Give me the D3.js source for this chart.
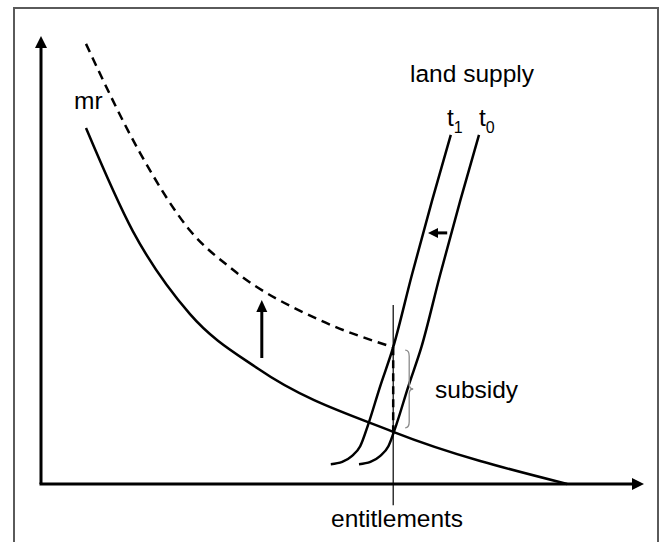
<!DOCTYPE html>
<html>
<head>
<meta charset="utf-8">
<script src="https://cdn.jsdelivr.net/npm/d3@7"></script>
<style>
  html, body { margin: 0; padding: 0; background: #fff; }
  svg { display: block; font-family: "Liberation Sans", Arial, sans-serif; }
</style>
</head>
<body>
<svg id="chart" width="659" height="542"></svg>
<script>
// ---- data (abstract units, x 0..100, y 0..100) ----
const mrX = [7.5, 15.3, 24.8, 36.2, 58.7, 87.7];
const mrY = [79.1, 56.2, 37.8, 25.6, 11.6, 0];
const mrSubX = [7.5, 16.5, 24.8, 32, 46.5, 58.7];
const mrSubY = [97.8, 73.6, 56.4, 47.6, 36.4, 30.4];
const t1X = [48.3, 50.2, 51.8, 53.2, 54.5, 56.5, 58.7, 61.8, 65.2, 68.3];
const t0X = [53.0, 54.9, 56.5, 57.9, 59.2, 61.2, 63.4, 66.5, 69.9, 73.0];
const supplyY = [4.4, 4.9, 6.2, 8.4, 13.1, 21.6, 30.4, 46.4, 63.1, 77.6];
const entitlement = 58.7;
const entLineY = [39.8, -4.7];
const subsidyY = [30.4, 11.6];
const upArrowX = 36.8, upArrowY = [28.0, 40.9];
const leftArrowX = [67.7, 64.5], leftArrowY = 55.8;
const labels = ["mr", "land supply", "subsidy", "entitlements"];

// ---- scales ----
const x = d3.scaleLinear().domain([0, 100]).range([41, 641]);
const y = d3.scaleLinear().domain([0, 100]).range([484, 34]);

const svg = d3.select("#chart");

// frame
svg.append("path")
  .attr("d", "M14,545 L14,8 L658,8 L658,545")
  .attr("fill", "none").attr("stroke", "#5a5a5a").attr("stroke-width", 2);

// axes
const ax = svg.append("g");
ax.append("line").attr("x1", x(0)).attr("y1", y(0)).attr("x2", x(0)).attr("y2", y(100) + 12)
  .attr("stroke", "#000").attr("stroke-width", 3);
ax.append("path").attr("d", `M${x(0)},${y(100)+2} l-6,12 l12,0 z`).attr("fill", "#000");
ax.append("line").attr("x1", x(0) - 1.5).attr("y1", y(0)).attr("x2", x(100) - 9).attr("y2", y(0))
  .attr("stroke", "#000").attr("stroke-width", 3);
ax.append("path").attr("d", `M${x(100)+3},${y(0)} l-12,-6 l0,12 z`).attr("fill", "#000");

const line = d3.line().x(d => x(d[0])).y(d => y(d[1])).curve(d3.curveMonotoneX);
const zip = (a, b) => a.map((v, i) => [v, b[i]]);

// mr solid
svg.append("path").attr("d", line(zip(mrX, mrY)))
  .attr("fill", "none").attr("stroke", "#000").attr("stroke-width", 2.5);
// mr + subsidy dashed
svg.append("path").attr("d", line(zip(mrSubX, mrSubY)))
  .attr("fill", "none").attr("stroke", "#000").attr("stroke-width", 2.5)
  .attr("stroke-dasharray", "9,6");
// supply curves
svg.append("path").attr("d", line(zip(t1X, supplyY)))
  .attr("fill", "none").attr("stroke", "#000").attr("stroke-width", 2.5);
svg.append("path").attr("d", line(zip(t0X, supplyY)))
  .attr("fill", "none").attr("stroke", "#000").attr("stroke-width", 2.5);

// entitlement vertical line
svg.append("line").attr("x1", x(entitlement)).attr("x2", x(entitlement))
  .attr("y1", y(entLineY[0])).attr("y2", y(entLineY[1]))
  .attr("stroke", "#000").attr("stroke-width", 1.2);
// dashed subsidy segment
svg.append("line").attr("x1", x(entitlement)).attr("x2", x(entitlement))
  .attr("y1", y(subsidyY[0])).attr("y2", y(subsidyY[1]))
  .attr("stroke", "#000").attr("stroke-width", 2.5).attr("stroke-dasharray", "8,5");

// brace
{
  const bx = x(entitlement) + 12, top = y(subsidyY[0]) + 3, bot = y(subsidyY[1]) - 4;
  const mid = (top + bot) / 2;
  svg.append("path")
    .attr("d", `M${bx},${top} Q${bx+4},${top} ${bx+4},${top+6} L${bx+4},${mid-5} Q${bx+4},${mid} ${bx+8},${mid} Q${bx+4},${mid} ${bx+4},${mid+5} L${bx+4},${bot-6} Q${bx+4},${bot} ${bx},${bot}`)
    .attr("fill", "none").attr("stroke", "#8a8a8a").attr("stroke-width", 1.3);
}

// up arrow
svg.append("line").attr("x1", x(upArrowX)).attr("x2", x(upArrowX))
  .attr("y1", y(upArrowY[0])).attr("y2", y(upArrowY[1]) + 10)
  .attr("stroke", "#000").attr("stroke-width", 3);
svg.append("path").attr("d", `M${x(upArrowX)},${y(upArrowY[1])} l-5.5,12 l11,0 z`).attr("fill", "#000");
// left arrow
svg.append("line").attr("x1", x(leftArrowX[0])).attr("x2", x(leftArrowX[1]) + 8)
  .attr("y1", y(leftArrowY)).attr("y2", y(leftArrowY))
  .attr("stroke", "#000").attr("stroke-width", 3);
svg.append("path").attr("d", `M${x(leftArrowX[1])},${y(leftArrowY)} l10,-5 l0,10 z`).attr("fill", "#000");

// labels
const txt = (s, px, py) => svg.append("text").attr("x", px).attr("y", py)
  .attr("font-size", 24.5).attr("fill", "#000").text(s);
txt(labels[0], 74, 109);
txt(labels[1], 410, 82);
txt(labels[2], 435, 398);
txt(labels[3], 331, 527);

const sub = (base, s, px, py) => {
  const t = svg.append("text").attr("x", px).attr("y", py).attr("font-size", 24.5).attr("fill", "#000");
  t.append("tspan").text(base);
  t.append("tspan").attr("font-size", 16).attr("dy", 7).text(s);
};
sub("t", "1", 447, 126);
sub("t", "0", 479, 126);
</script>
</body>
</html>
